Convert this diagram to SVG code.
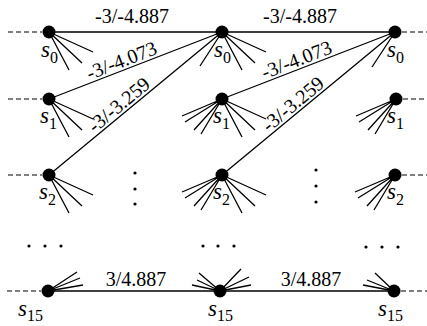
<svg xmlns="http://www.w3.org/2000/svg" width="427" height="326" viewBox="0 0 427 326">
<style>
.e{stroke:#000;stroke-width:1.3;fill:none}
.d{stroke:#000;stroke-width:1.2;stroke-dasharray:5 3;fill:none}
.n{fill:#000}
.t{font-family:"Liberation Serif","Times New Roman",serif;font-size:20px;fill:#000;text-anchor:middle}
.s{font-family:"Liberation Serif","Times New Roman",serif;font-size:23px;font-style:italic;fill:#000}
.b{font-style:normal;font-size:16px}
</style>
<defs>
<g id="outfan" class="e"><path d="M0 0l44 20M0 0l33 31M0 0l20 38"/></g>
<g id="infan" class="e"><path d="M0 0l-40 17M0 0l-37 23M0 0l-28 31M0 0l-21 35"/></g>
</defs>
<rect width="427" height="326" fill="#fff"/>
<g id="connectors">
<path class="e" d="M49 32H222M222 32H395M49 99L222 32M49 175L222 32M222 99L395 32M222 175L395 32M48 291H220M220 291H394"/>
<path class="d" d="M8 32H42M8 99H42M8 175H42M7 291H41M402 32H427M403 99H427M402 175H427M401 291H427"/>
<text class="t" x="132" y="23">-3/-4.887</text>
<text class="t" x="300" y="23">-3/-4.887</text>
<text class="t" transform="translate(123.9 66.8) rotate(-21.2)">-3/-4.073</text>
<text class="t" transform="translate(298.9 66) rotate(-21.2)">-3/-4.073</text>
<text class="t" transform="translate(123.1 109.9) rotate(-39.6)">-3/-3.259</text>
<text class="t" transform="translate(297.1 109.1) rotate(-39.6)">-3/-3.259</text>
<text class="t" x="136" y="286">3/4.887</text>
<text class="t" x="311" y="286">3/4.887</text>
</g>
<g id="L0"><use href="#outfan" x="49" y="32"/><circle class="n" cx="49" cy="32" r="6.5"/><text class="s" x="41" y="57">s<tspan class="b" dy="6">0</tspan></text></g>
<g id="L1"><use href="#outfan" x="49" y="99"/><circle class="n" cx="49" cy="99" r="6.5"/><text class="s" x="40" y="123">s<tspan class="b" dy="6">1</tspan></text></g>
<g id="L2"><use href="#outfan" x="49" y="175"/><circle class="n" cx="49" cy="175" r="6.5"/><text class="s" x="39" y="199">s<tspan class="b" dy="6">2</tspan></text></g>
<g id="L15"><path class="e" d="M48 291l29 -19M48 291l32 -13M48 291l35 -6"/><circle class="n" cx="48" cy="291" r="6.5"/><text class="s" x="18" y="316">s<tspan class="b" dy="5">15</tspan></text></g>
<g id="M0"><use href="#outfan" x="222" y="32"/><path class="e" d="M222 32l-22 34"/><circle class="n" cx="222" cy="32" r="6.5"/><text class="s" x="214" y="57">s<tspan class="b" dy="6">0</tspan></text></g>
<g id="M1"><use href="#outfan" x="222" y="99"/><use href="#infan" x="222" y="99"/><circle class="n" cx="222" cy="99" r="6.5"/><text class="s" x="213" y="123">s<tspan class="b" dy="6">1</tspan></text></g>
<g id="M2"><use href="#outfan" x="222" y="175"/><use href="#infan" x="222" y="175"/><circle class="n" cx="222" cy="175" r="6.5"/><text class="s" x="213" y="199">s<tspan class="b" dy="6">2</tspan></text></g>
<g id="M15"><path class="e" d="M220 291l-21 -18M220 291l-23 -11M220 291l-28 -6M220 291l21 -22M220 291l29 -14M220 291l31 -6"/><circle class="n" cx="220" cy="291" r="6.5"/><text class="s" x="208" y="316">s<tspan class="b" dy="5">15</tspan></text></g>
<g id="R0"><path class="e" d="M395 32l-23 35"/><circle class="n" cx="395" cy="32" r="6.5"/><text class="s" x="387" y="57">s<tspan class="b" dy="6">0</tspan></text></g>
<g id="R1"><use href="#infan" x="396" y="99"/><circle class="n" cx="396" cy="99" r="6.5"/><text class="s" x="387" y="123">s<tspan class="b" dy="6">1</tspan></text></g>
<g id="R2"><use href="#infan" x="395" y="175"/><circle class="n" cx="395" cy="175" r="6.5"/><text class="s" x="387" y="199">s<tspan class="b" dy="6">2</tspan></text></g>
<g id="R15"><path class="e" d="M394 291l-19 -18M394 291l-27 -11M394 291l-31 -6"/><circle class="n" cx="394" cy="291" r="6.5"/><text class="s" x="378" y="316">s<tspan class="b" dy="5">15</tspan></text></g>
<g id="ellipses" class="n">
<circle cx="135" cy="173" r="1.6"/><circle cx="135" cy="189" r="1.6"/><circle cx="135" cy="204" r="1.6"/>
<circle cx="316" cy="170" r="1.6"/><circle cx="316" cy="186" r="1.6"/><circle cx="316" cy="202" r="1.6"/>
<circle cx="29" cy="246" r="1.6"/><circle cx="45" cy="246" r="1.6"/><circle cx="61" cy="246" r="1.6"/>
<circle cx="203" cy="246" r="1.6"/><circle cx="218" cy="246" r="1.6"/><circle cx="234" cy="246" r="1.6"/>
<circle cx="366" cy="247" r="1.6"/><circle cx="382" cy="247" r="1.6"/><circle cx="398" cy="247" r="1.6"/>
</g>
</svg>
